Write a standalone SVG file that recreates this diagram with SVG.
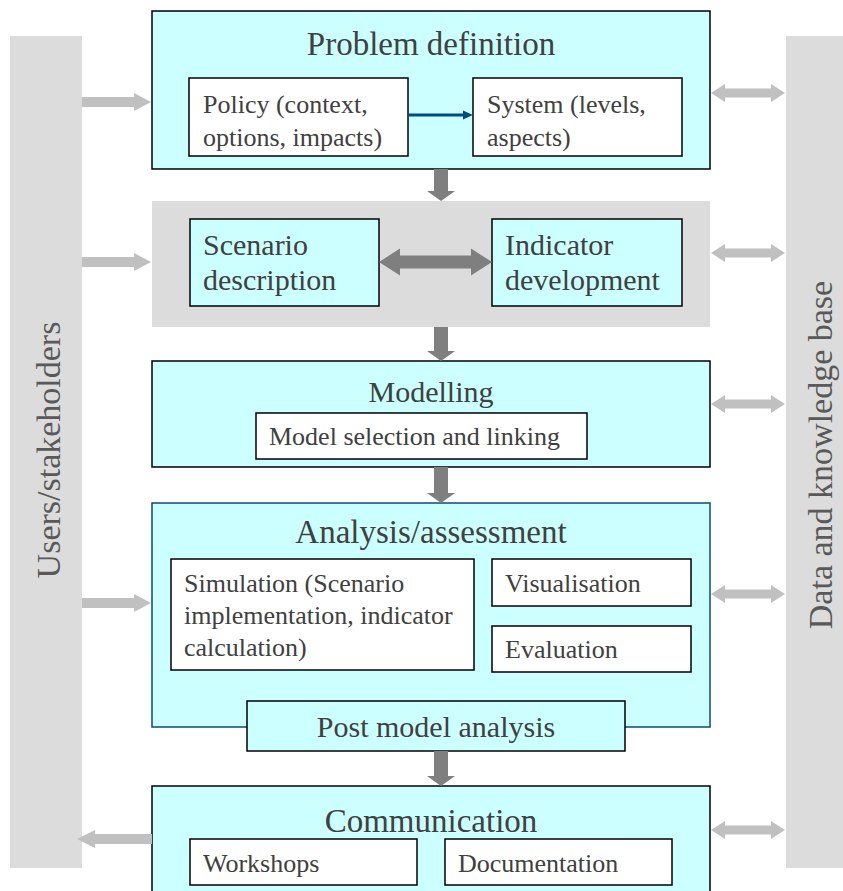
<svg xmlns="http://www.w3.org/2000/svg" width="843" height="891" viewBox="0 0 843 891">
<style>
text{font-family:"Liberation Serif","Times New Roman",serif;fill:#404040}
.t33{font-size:33px;text-anchor:middle}
.t30{font-size:30px}
.t26{font-size:26px}
.side{font-size:34px;text-anchor:middle;fill:#595959}
.cyan{fill:#ccffff;stroke:#000;stroke-width:1.5}
.white{fill:#fff;stroke:#000;stroke-width:1.5}
.dk{fill:#7f7f7f}
.lt{fill:#c0c0c0}
</style>
<rect width="843" height="891" fill="#fff"/>
<g id="users">
<rect x="10" y="36" width="72" height="832" fill="#dcdcdc"/>
<text class="side" transform="translate(60,450) rotate(-90)">Users/stakeholders</text>
</g>
<g id="data">
<rect x="786" y="36" width="72" height="832" fill="#dcdcdc"/>
<text class="side" transform="translate(832,455) rotate(-90)">Data and knowledge base</text>
</g>
<g id="problem">
<rect class="cyan" x="152" y="11" width="558" height="158"/>
<text class="t33" x="431" y="55">Problem definition</text>
<rect class="white" x="189" y="78" width="219" height="78"/>
<text class="t26" x="203" y="113">Policy (context,</text>
<text class="t26" x="203" y="146">options, impacts)</text>
<rect class="white" x="473" y="78" width="209" height="78"/>
<text class="t26" x="487" y="113">System (levels,</text>
<text class="t26" x="487" y="146">aspects)</text>
</g>
<g id="scenario-indicator">
<rect x="152" y="201" width="558" height="126" fill="#dcdcdc"/>
<rect class="cyan" x="190" y="219" width="189" height="87"/>
<text class="t30" x="203" y="255">Scenario</text>
<text class="t30" x="203" y="290">description</text>
<rect class="cyan" x="492" y="219" width="190" height="87"/>
<text class="t30" x="505" y="255">Indicator</text>
<text class="t30" x="505" y="290">development</text>
</g>
<g id="modelling">
<rect class="cyan" x="152" y="361" width="558" height="106"/>
<text class="t30" x="431" y="402" text-anchor="middle">Modelling</text>
<rect class="white" x="256" y="413" width="331" height="46"/>
<text class="t26" x="269" y="445">Model selection and linking</text>
</g>
<g id="analysis">
<rect x="152" y="503" width="558" height="224" fill="#ccffff" stroke="#0b4a78" stroke-width="1.5"/>
<text class="t33" x="431" y="543">Analysis/assessment</text>
<rect class="white" x="171" y="559" width="303" height="111"/>
<text class="t26" x="184" y="592">Simulation (Scenario</text>
<text class="t26" x="184" y="624">implementation, indicator</text>
<text class="t26" x="184" y="656">calculation)</text>
<rect class="white" x="492" y="559" width="199" height="47"/>
<text class="t26" x="505" y="592">Visualisation</text>
<rect class="white" x="492" y="626" width="199" height="46"/>
<text class="t26" x="505" y="658">Evaluation</text>
</g>
<g id="post">
<rect class="cyan" x="247" y="701" width="378" height="50"/>
<text class="t30" x="436" y="737" text-anchor="middle">Post model analysis</text>
</g>
<g id="communication">
<rect class="cyan" x="152" y="786" width="558" height="120"/>
<text class="t33" x="431" y="832">Communication</text>
<rect class="white" x="190" y="839" width="227" height="46"/>
<text class="t26" x="203" y="872">Workshops</text>
<rect class="white" x="445" y="839" width="227" height="46"/>
<text class="t26" x="458" y="872">Documentation</text>
</g>
<g id="connectors">
<line x1="408" y1="115" x2="465" y2="115" stroke="#004c7f" stroke-width="3"/>
<polygon points="463,110.5 473,115 463,119.5" fill="#004c7f"/>
<polygon class="dk" points="434,169 448,169 448,191 455,191 441,201 427,191 434,191"/>
<polygon class="dk" points="434,327 448,327 448,351 455,351 441,361 427,351 434,351"/>
<polygon class="dk" points="434,467 448,467 448,493 455,493 441,503 427,493 434,493"/>
<polygon class="dk" points="434,751 448,751 448,776 455,776 441,786 427,776 434,776"/>
<polygon class="dk" points="379,262 400,248.5 400,255.5 471,255.5 471,248.5 492,262 471,275.5 471,268.5 400,268.5 400,275.5"/>
<polygon class="lt" points="82,97 134,97 134,93 151,102 134,111 134,107 82,107"/>
<polygon class="lt" points="82,257 134,257 134,253 151,262 134,271 134,267 82,267"/>
<polygon class="lt" points="82,598 134,598 134,594 151,603 134,612 134,608 82,608"/>
<polygon class="lt" points="152,834 95,834 95,830 77,839 95,848 95,844 152,844"/>
<polygon class="lt" points="711,93 725,84 725,88.5 771,88.5 771,84 785,93 771,102 771,97.5 725,97.5 725,102"/>
<polygon class="lt" points="711,253 725,244 725,248.5 771,248.5 771,244 785,253 771,262 771,257.5 725,257.5 725,262"/>
<polygon class="lt" points="711,404 725,395 725,399.5 771,399.5 771,395 785,404 771,413 771,408.5 725,408.5 725,413"/>
<polygon class="lt" points="711,594 725,585 725,589.5 771,589.5 771,585 785,594 771,603 771,598.5 725,598.5 725,603"/>
<polygon class="lt" points="711,830 725,821 725,825.5 771,825.5 771,821 785,830 771,839 771,834.5 725,834.5 725,839"/>
</g>
</svg>
